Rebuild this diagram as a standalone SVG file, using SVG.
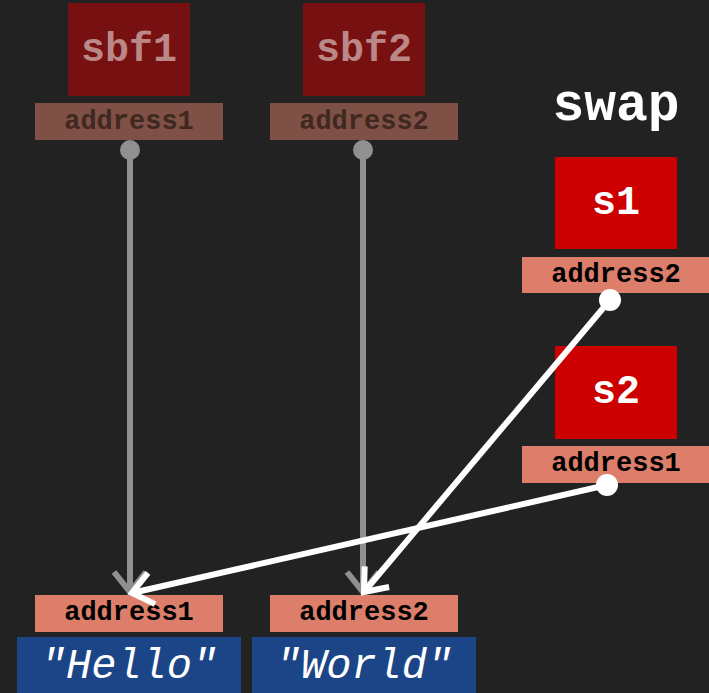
<svg xmlns="http://www.w3.org/2000/svg" width="709" height="693" viewBox="0 0 709 693">
  <style>
    .mono { font-family: "Liberation Mono", "Courier New", monospace; text-anchor: middle; }
    .var { fill: #cc0000; }
    .var-text { font-size: 40px; font-weight: bold; fill: #ffffff; }
    .addr { fill: #dd7e6b; }
    .addr-text { font-size: 27px; font-weight: bold; fill: #000000; }
    .faded-var { fill: #771111; }
    .faded-var-text { font-size: 40px; font-weight: bold; fill: #bb8888; }
    .faded-addr { fill: #7f5046; }
    .faded-addr-text { font-size: 27px; font-weight: bold; fill: #40281f; }
    .str { fill: #1c4587; }
    .str-text { font-size: 42px; font-style: italic; fill: #ffffff; }
    .title { font-size: 53px; font-weight: bold; fill: #ffffff; }
    .ptr-gray { stroke: #909090; stroke-width: 6; fill: none; }
    .ptr-white { stroke: #ffffff; stroke-width: 6; fill: none; }
  </style>
  <defs>
    <marker id="head-gray" markerUnits="userSpaceOnUse" markerWidth="40" markerHeight="40" viewBox="-30 -20 40 40" refX="0" refY="0" orient="auto">
      <path d="M-20,-16 L0,0 L-20,16" stroke="#909090" stroke-width="6" fill="none"/>
    </marker>
    <marker id="head-white" markerUnits="userSpaceOnUse" markerWidth="40" markerHeight="40" viewBox="-30 -20 40 40" refX="0" refY="0" orient="auto">
      <path d="M-20,-16 L0,0 L-20,16" stroke="#ffffff" stroke-width="6" fill="none"/>
    </marker>
  </defs>

  <rect x="0" y="0" width="709" height="693" fill="#222222"/>

  <!-- caller variables (inactive frame) -->
  <g id="sbf1">
    <rect class="faded-var" x="68" y="3" width="122" height="93"/>
    <text class="mono faded-var-text" x="129" y="61">sbf1</text>
    <rect class="faded-addr" x="35" y="103" width="188" height="37"/>
    <text class="mono faded-addr-text" x="129" y="129">address1</text>
  </g>
  <g id="sbf2">
    <rect class="faded-var" x="303" y="3" width="122" height="93"/>
    <text class="mono faded-var-text" x="364" y="61">sbf2</text>
    <rect class="faded-addr" x="270" y="103" width="188" height="37"/>
    <text class="mono faded-addr-text" x="364" y="129">address2</text>
  </g>

  <!-- swap frame -->
  <g id="swap-title">
    <text class="mono title" x="616" y="120">swap</text>
  </g>
  <g id="s1">
    <rect class="var" x="555" y="157" width="122" height="92"/>
    <text class="mono var-text" x="616" y="214">s1</text>
    <rect class="addr" x="522" y="257" width="188" height="36"/>
    <text class="mono addr-text" x="616" y="282">address2</text>
  </g>
  <g id="s2">
    <rect class="var" x="555" y="346" width="122" height="93"/>
    <text class="mono var-text" x="616" y="403">s2</text>
    <rect class="addr" x="522" y="446" width="188" height="37"/>
    <text class="mono addr-text" x="616" y="471">address1</text>
  </g>

  <!-- heap strings -->
  <g id="hello">
    <rect class="addr" x="35" y="595" width="188" height="37"/>
    <text class="mono addr-text" x="129" y="620">address1</text>
    <rect class="str" x="17" y="637" width="224" height="56"/>
    <text class="mono str-text" x="129" y="678">"Hello"</text>
  </g>
  <g id="world">
    <rect class="addr" x="270" y="595" width="188" height="37"/>
    <text class="mono addr-text" x="364" y="620">address2</text>
    <rect class="str" x="252" y="637" width="224" height="56"/>
    <text class="mono str-text" x="364" y="678">"World"</text>
  </g>

  <!-- pointers -->
  <g id="connectors">
    <circle cx="130" cy="150" r="10" fill="#909090"/>
    <line class="ptr-gray" x1="130" y1="150" x2="130" y2="592" marker-end="url(#head-gray)"/>
    <circle cx="363" cy="150" r="10" fill="#909090"/>
    <line class="ptr-gray" x1="363" y1="150" x2="363" y2="592" marker-end="url(#head-gray)"/>
    <circle cx="610" cy="300" r="11" fill="#ffffff"/>
    <line class="ptr-white" x1="610" y1="300" x2="364" y2="592" marker-end="url(#head-white)"/>
    <circle cx="607" cy="485" r="11" fill="#ffffff"/>
    <line class="ptr-white" x1="607" y1="485" x2="132" y2="593" marker-end="url(#head-white)"/>
  </g>
</svg>
